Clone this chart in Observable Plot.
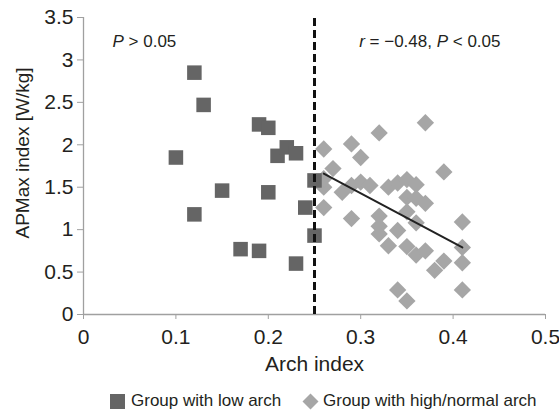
<!DOCTYPE html>
<html>
<head>
<meta charset="utf-8">
<script src="https://cdn.jsdelivr.net/npm/d3@7"></script>
<script src="https://cdn.jsdelivr.net/npm/@observablehq/plot@0.6"></script>
<style>
  body { margin: 0; background: #fff; font-family: "Liberation Sans", Arial, sans-serif; }
  #wrap { position: relative; width: 559px; height: 413px; }
  #legend { position: absolute; left: 0; top: 387px; width: 559px; height: 28px; font-size: 17px; color: #231f20; }
  #legend .item { position: absolute; top: 0; display: flex; align-items: center; height: 28px; }
  #legend svg { display: block; }
</style>
</head>
<body>
<div id="wrap">
  <div id="chart"></div>
  <div id="legend"></div>
</div>
<script>
// Low arch group (squares)
const lowX = [0.10, 0.12, 0.13, 0.15, 0.12, 0.17, 0.19, 0.19, 0.20, 0.20, 0.21, 0.22, 0.23, 0.24, 0.25, 0.25, 0.23];
const lowY = [1.85, 2.85, 2.47, 1.46, 1.18, 0.77, 0.75, 2.24, 2.20, 1.44, 1.87, 1.97, 1.90, 1.26, 1.58, 0.93, 0.60];

// High/normal arch group (diamonds)
const highX = [0.26, 0.29, 0.30, 0.32, 0.37, 0.27, 0.39, 0.26, 0.28, 0.29, 0.30, 0.31, 0.33, 0.34, 0.35, 0.36,
               0.35, 0.36, 0.37, 0.26, 0.35, 0.29, 0.32, 0.32, 0.32, 0.34, 0.36, 0.41, 0.33, 0.35, 0.36, 0.37,
               0.39, 0.38, 0.41, 0.41, 0.34, 0.35, 0.41, 0.26];
const highY = [1.95, 2.01, 1.85, 2.14, 2.26, 1.72, 1.68, 1.50, 1.44, 1.52, 1.56, 1.52, 1.50, 1.55, 1.59, 1.53,
               1.38, 1.37, 1.31, 1.26, 1.21, 1.13, 1.16, 1.04, 0.95, 0.99, 1.08, 1.09, 0.81, 0.80, 0.70, 0.75,
               0.63, 0.52, 0.79, 0.61, 0.29, 0.16, 0.29, 1.60];

// Regression line for the high/normal group
const regX = [0.26, 0.41];
const regY = [1.66, 0.79];

// Cut-off
const cutoff = [0.25];

const xTicks = [0, 0.1, 0.2, 0.3, 0.4, 0.5];
const xTickLabels = ["0", "0.1", "0.2", "0.3", "0.4", "0.5"];
const yTicks = [0, 0.5, 1, 1.5, 2, 2.5, 3, 3.5];
const yTickLabels = ["0", "0.5", "1", "1.5", "2", "2.5", "3", "3.5"];

const xLabel = "Arch index";
const yLabel = "APMax index [W/kg]";
const annotLeft = "P > 0.05";
const annotRight = "r = \u22120.48, P < 0.05";
const seriesNames = ["Group with low arch", "Group with high/normal arch"];

const low = lowX.map((x, i) => ({x, y: lowY[i]}));
const high = highX.map((x, i) => ({x, y: highY[i]}));
const reg = regX.map((x, i) => ({x, y: regY[i]}));

const darkGray = "#656565";
const lightGray = "#a6a6a6";
const axisGray = "#a0a0a0";
const textColor = "#231f20";

const chart = Plot.plot({
  width: 559,
  height: 385,
  marginLeft: 83,
  marginRight: 14,
  marginTop: 17,
  marginBottom: 71,
  style: { fontFamily: "'Liberation Sans', Arial, sans-serif", color: textColor, background: "#fff" },
  x: { domain: [0, 0.5] },
  y: { domain: [0, 3.5] },
  marks: [
    Plot.ruleX([0], { y1: 0, y2: 3.5, stroke: axisGray, strokeWidth: 1.3 }),
    Plot.ruleY([0], { x1: 0, x2: 0.5, stroke: axisGray, strokeWidth: 1.3 }),
    Plot.axisY({
      ticks: yTicks, tickSize: 6, tickPadding: 4, stroke: axisGray,
      tickFormat: d => yTickLabels[yTicks.indexOf(d)], fontSize: 21, label: null
    }),
    Plot.axisX({
      ticks: xTicks, tickSize: 5, tickPadding: 10, stroke: axisGray,
      tickFormat: d => xTickLabels[xTicks.indexOf(d)], fontSize: 21, label: null
    }),
    Plot.dot(high, { x: "x", y: "y", symbol: "diamond2", r: 7.8, fill: lightGray, stroke: "none" }),
    Plot.dot(low, { x: "x", y: "y", symbol: "square", r: 8.2, fill: darkGray, stroke: "none" }),
    Plot.ruleX(cutoff, { y1: 0, y2: 3.5, stroke: "#111", strokeWidth: 3, strokeDasharray: "8,4" }),
    Plot.line(reg, { x: "x", y: "y", stroke: "#222", strokeWidth: 2 }),
    Plot.text([annotLeft], { frameAnchor: "top-left", dx: 29, dy: 24, textAnchor: "start", lineAnchor: "middle", fontSize: 17, fill: textColor }),
    Plot.text([annotRight], { frameAnchor: "top-right", dx: -45, dy: 24, textAnchor: "end", lineAnchor: "middle", fontSize: 17, fill: textColor }),
    Plot.text([xLabel], { frameAnchor: "bottom", dy: 50, lineAnchor: "middle", fontSize: 21, fill: textColor }),
    Plot.text([yLabel], { frameAnchor: "left", dx: -61, dy: -13, rotate: -90, textAnchor: "middle", lineAnchor: "middle", fontSize: 19, fill: textColor })
  ]
});

// italicize statistical symbols
chart.querySelectorAll("text").forEach(t => {
  const s = t.textContent;
  if (s === annotLeft || s === annotRight) {
    const parts = s.split(/\b([Pr])\b/);
    t.textContent = "";
    parts.forEach(p => {
      if (!p) return;
      const ts = document.createElementNS("http://www.w3.org/2000/svg", "tspan");
      if (p === "P" || p === "r") ts.setAttribute("font-style", "italic");
      ts.textContent = p;
      t.appendChild(ts);
    });
  }
});

document.getElementById("chart").appendChild(chart);

// legend
const legend = document.getElementById("legend");
const items = [
  { name: seriesNames[0], left: 110, textLeft: 131, marker: `<svg width="15" height="15"><rect x="0" y="0" width="15" height="15" fill="${darkGray}"/></svg>` },
  { name: seriesNames[1], left: 302, textLeft: 323, marker: `<svg width="17" height="17"><path d="M8.5 0.5 L16.5 8.5 L8.5 16.5 L0.5 8.5 Z" fill="${lightGray}"/></svg>` }
];
items.forEach(it => {
  const m = document.createElement("div");
  m.className = "item";
  m.style.left = it.left + "px";
  m.innerHTML = it.marker;
  legend.appendChild(m);
  const t = document.createElement("div");
  t.className = "item";
  t.style.left = it.textLeft + "px";
  t.textContent = it.name;
  legend.appendChild(t);
});
</script>
</body>
</html>
